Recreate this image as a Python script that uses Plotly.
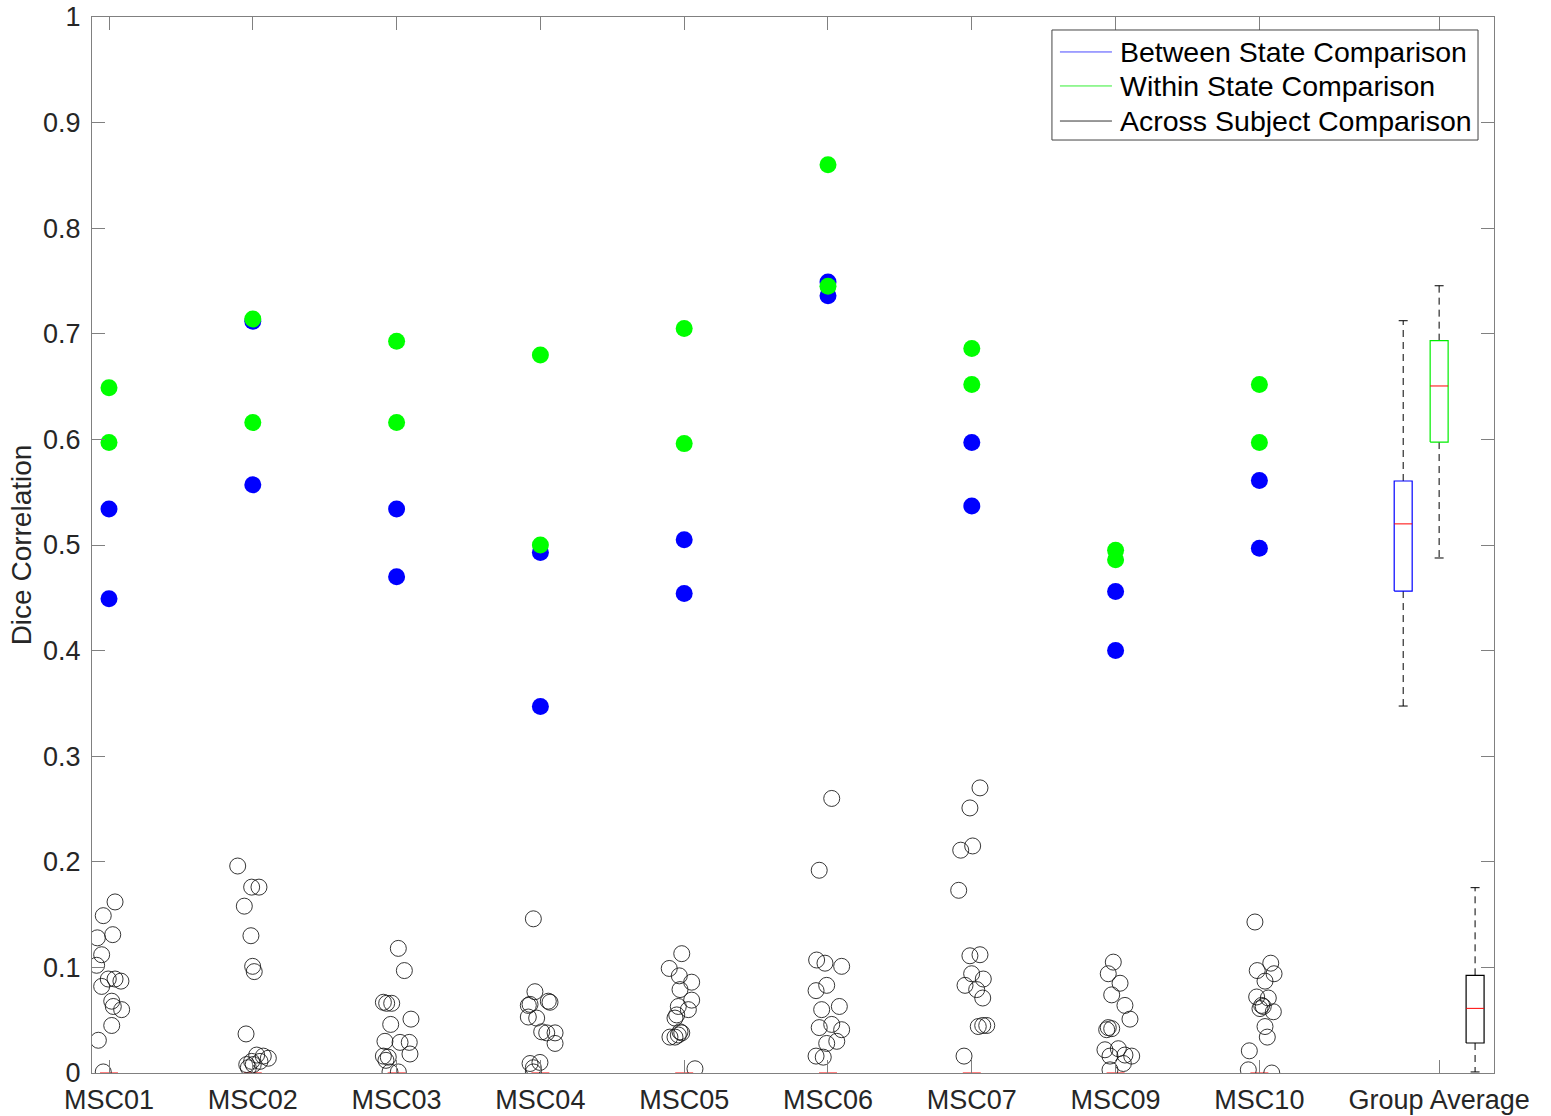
import plotly.graph_objects as go

# ---------------- data ----------------
subjects = ["MSC01", "MSC02", "MSC03", "MSC04", "MSC05", "MSC06", "MSC07", "MSC09", "MSC10"]
group_label = "Group Average"

between_state = [
    [0.534, 0.449],
    [0.712, 0.557],
    [0.534, 0.470],
    [0.493, 0.347],
    [0.505, 0.454],
    [0.749, 0.736],
    [0.597, 0.537],
    [0.456, 0.400],
    [0.561, 0.497],
]
within_state = [
    [0.649, 0.597],
    [0.714, 0.616],
    [0.693, 0.616],
    [0.680, 0.500],
    [0.705, 0.596],
    [0.860, 0.745],
    [0.686, 0.652],
    [0.495, 0.486],
    [0.652, 0.597],
]

across_subject = [
    [0.162, 0.149, 0.131, 0.128, 0.112, 0.102, 0.089, 0.089, 0.087, 0.082, 0.068, 0.063, 0.060, 0.045, 0.031, 0.001],
    [0.196, 0.176, 0.176, 0.158, 0.130, 0.101, 0.096, 0.037, 0.017, 0.016, 0.014, 0.011, 0.008, 0.008, 0.011, 0.005],
    [0.118, 0.097, 0.067, 0.066, 0.066, 0.051, 0.046, 0.030, 0.029, 0.029, 0.018, 0.016, 0.015, 0.012, 0.001, 0.001],
    [0.146, 0.077, 0.065, 0.068, 0.067, 0.053, 0.052, 0.039, 0.038, 0.038, 0.028, 0.009, 0.010, 0.005, 0.001, 0.064],
    [0.113, 0.099, 0.092, 0.086, 0.079, 0.069, 0.060, 0.063, 0.055, 0.052, 0.039, 0.034, 0.034, 0.036, 0.038, 0.004],
    [0.260, 0.192, 0.107, 0.104, 0.101, 0.078, 0.083, 0.060, 0.063, 0.043, 0.046, 0.041, 0.030, 0.028, 0.016, 0.015],
    [0.270, 0.251, 0.215, 0.211, 0.173, 0.111, 0.112, 0.094, 0.089, 0.083, 0.079, 0.071, 0.044, 0.045, 0.045, 0.016],
    [0.105, 0.094, 0.085, 0.074, 0.064, 0.051, 0.043, 0.041, 0.042, 0.022, 0.023, 0.017, 0.016, 0.016, 0.009, 0.003],
    [0.143, 0.104, 0.097, 0.094, 0.087, 0.072, 0.071, 0.064, 0.061, 0.063, 0.058, 0.044, 0.034, 0.021, 0.003, 0.000],
]
across_jitter = [
    [0.042, -0.040, 0.026, -0.081, -0.051, -0.086, -0.005, 0.042, 0.083, -0.051, 0.019, 0.030, 0.088, 0.019, -0.074, -0.040],
    [-0.105, -0.008, 0.043, -0.059, -0.013, -0.001, 0.010, -0.047, 0.027, 0.073, 0.108, -0.008, -0.042, 0.003, 0.050, -0.031],
    [0.012, 0.054, -0.092, -0.069, -0.034, 0.100, -0.041, -0.081, 0.024, 0.088, 0.093, -0.092, -0.058, -0.074, -0.046, 0.012],
    [-0.049, -0.038, -0.072, 0.055, 0.067, -0.084, -0.026, 0.009, 0.044, 0.102, 0.102, -0.072, -0.003, -0.049, -0.049, -0.084],
    [-0.017, -0.104, -0.034, 0.052, -0.029, 0.052, 0.029, -0.041, -0.052, -0.064, -0.029, -0.099, -0.064, -0.041, -0.017, 0.075],
    [0.026, -0.061, -0.079, -0.021, 0.095, -0.083, -0.009, -0.044, 0.079, -0.061, 0.026, 0.095, 0.061, -0.009, -0.083, -0.033],
    [0.057, -0.013, 0.006, -0.077, -0.091, -0.013, 0.057, -0.001, 0.080, -0.047, 0.034, 0.076, 0.045, 0.076, 0.104, -0.054],
    [-0.016, -0.051, 0.031, -0.027, 0.065, 0.100, -0.051, -0.062, -0.027, -0.074, 0.019, 0.065, 0.112, -0.039, 0.054, -0.039],
    [-0.031, 0.079, -0.015, 0.102, 0.039, -0.019, 0.062, 0.016, 0.004, 0.027, 0.097, 0.039, 0.055, -0.070, -0.077, 0.086],
]

# group-average box statistics
box_names = ["Between State Comparison", "Within State Comparison", "Across Subject Comparison"]
box_pos = [10.0, 10.25, 10.5]
box_colors = ["#0000ff", "#00ee00", "#000000"]
legend_colors = ["#4a4aff", "#33ee33", "#333333"]
box_lower = [0.3475, 0.4877, 0.001]
box_q1 = [0.4564, 0.5975, 0.0284]
box_median = [0.520, 0.6506, 0.0612]
box_q3 = [0.5606, 0.6935, 0.0925]
box_upper = [0.7124, 0.7455, 0.1755]

subject_median_across = [0, 0, 0, 0, 0, 0, 0, 0, 0]

BOX_W = 0.125
FONT = "Liberation Sans, Arial, Helvetica, sans-serif"
TXT = "#262626"
AX = "#808080"

subj_x = list(range(1, len(subjects) + 1))

fig = go.Figure()

# red median marks at zero for each subject
mx, my = [], []
for xi, m in zip(subj_x, subject_median_across):
    mx += [xi - BOX_W / 2, xi + BOX_W / 2, None]
    my += [m, m, None]
fig.add_trace(go.Scatter(x=mx, y=my, mode="lines", line=dict(color="#ff0000", width=1),
                         showlegend=False, hoverinfo="skip"))

# across-subject circles
for xi, vals, jit in zip(subj_x, across_subject, across_jitter):
    fig.add_trace(go.Scatter(
        x=[xi + j for j in jit], y=vals, mode="markers",
        marker=dict(symbol="circle-open", size=16, color="rgba(20,20,20,0.85)", line=dict(width=1)),
        showlegend=False))

# between state (blue)
bx, byv = [], []
for xi, vals in zip(subj_x, between_state):
    bx += [xi] * len(vals)
    byv += vals
fig.add_trace(go.Scatter(x=bx, y=byv, mode="markers",
                         marker=dict(symbol="circle", size=17, color="#0000ff"), showlegend=False))

# within state (green)
gx, gyv = [], []
for xi, vals in zip(subj_x, within_state):
    gx += [xi] * len(vals)
    gyv += vals
fig.add_trace(go.Scatter(x=gx, y=gyv, mode="markers",
                         marker=dict(symbol="circle", size=17, color="#00ff00"), showlegend=False))

# group average boxplots: dashed whiskers + caps
wx, wy, cx, cy, medx, medy = [], [], [], [], [], []
for p, lo, q1, md, q3, hi in zip(box_pos, box_lower, box_q1, box_median, box_q3, box_upper):
    wx += [p, p, None, p, p, None]
    wy += [q3, hi, None, q1, lo, None]
    cx += [p - BOX_W / 4, p + BOX_W / 4, None, p - BOX_W / 4, p + BOX_W / 4, None]
    cy += [hi, hi, None, lo, lo, None]
    medx += [p - BOX_W / 2, p + BOX_W / 2, None]
    medy += [md, md, None]
fig.add_trace(go.Scatter(x=wx, y=wy, mode="lines", line=dict(color="#000000", width=1, dash="7px,5px"),
                         showlegend=False, hoverinfo="skip"))
fig.add_trace(go.Scatter(x=cx, y=cy, mode="lines", line=dict(color="#000000", width=1),
                         showlegend=False, hoverinfo="skip"))

# box outlines
for p, col, q1, q3 in zip(box_pos, box_colors, box_q1, box_q3):
    fig.add_trace(go.Scatter(
        x=[p - BOX_W / 2, p + BOX_W / 2, p + BOX_W / 2, p - BOX_W / 2, p - BOX_W / 2],
        y=[q1, q1, q3, q3, q1], mode="lines", line=dict(color=col, width=1.2),
        showlegend=False, hoverinfo="skip"))

fig.add_trace(go.Scatter(x=medx, y=medy, mode="lines", line=dict(color="#ff0000", width=1),
                         showlegend=False, hoverinfo="skip"))

# manual legend (box, line samples, real text)
LEG_X0, LEG_X1, LEG_Y0, LEG_Y1 = 0.6847, 0.9886, 0.8835, 0.9877
leg_rows = [0.9669, 0.9347, 0.9015]
shapes = [dict(type="rect", xref="paper", yref="paper", x0=LEG_X0, x1=LEG_X1, y0=LEG_Y0, y1=LEG_Y1,
               line=dict(color="#444444", width=1), fillcolor="white", layer="above")]
annotations = []
for name, col, yy in zip(box_names, legend_colors, leg_rows):
    shapes.append(dict(type="line", xref="paper", yref="paper", x0=0.6904, x1=0.7275, y0=yy, y1=yy,
                       line=dict(color=col, width=1), layer="above"))
    annotations.append(dict(xref="paper", yref="paper", x=0.7318, y=yy, xanchor="left", yanchor="middle",
                            text=name, showarrow=False, font=dict(size=28.5, color="#000000", family=FONT)))

fig.update_layout(
    width=1551, height=1116,
    margin=dict(l=92, r=57, t=17, b=43),
    plot_bgcolor="white", paper_bgcolor="white",
    font=dict(family=FONT, size=27, color=TXT),
    showlegend=False,
    shapes=shapes, annotations=annotations,
    xaxis=dict(range=[0.8818, 10.6315], tickmode="array",
               tickvals=subj_x + [10.25], ticktext=subjects + [group_label],
               ticks="inside", ticklen=13, tickcolor=AX, showline=True, linecolor=AX,
               linewidth=1, mirror="ticks", showgrid=False, zeroline=False, automargin=False,
               ticklabelstandoff=3, tickfont=dict(size=27, color=TXT)),
    yaxis=dict(range=[0, 1], tickmode="array",
               tickvals=[0, 0.1, 0.2, 0.3, 0.4, 0.5, 0.6, 0.7, 0.8, 0.9, 1],
               ticktext=["0", "0.1", "0.2", "0.3", "0.4", "0.5", "0.6", "0.7", "0.8", "0.9", "1"],
               ticks="inside", ticklen=13, tickcolor=AX, showline=True, linecolor=AX,
               linewidth=1, mirror="ticks", showgrid=False, zeroline=False, automargin=False,
               ticklabelstandoff=5, tickfont=dict(size=27, color=TXT),
               title=dict(text="Dice Correlation", font=dict(size=28, color=TXT), standoff=3)),
)

fig.write_html("out.html")
